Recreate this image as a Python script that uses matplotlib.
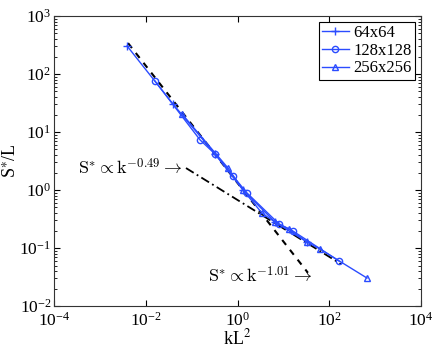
import numpy as np
import matplotlib
matplotlib.use('Agg')
import matplotlib.pyplot as plt

plt.rcParams['font.family'] = ['Liberation Serif', 'DejaVu Serif']
plt.rcParams['mathtext.fontset'] = 'stix'

# ---------------- data ----------------
k_64 = [0.0039, 0.039, 0.322, 1.31, 6.53, 32.5]
s_64 = [304, 30.4, 4.17, 1.0, 0.28, 0.127]

k_128 = [0.0158, 0.152, 0.322, 0.795, 1.60, 7.98, 16.1, 162]
s_128 = [75.7, 7.3, 4.17, 1.74, 0.89, 0.26, 0.196, 0.0597]

k_256 = [0.0615, 0.618, 1.31, 3.40, 6.53, 13.2, 32.5, 62.4, 659]
s_256 = [20.4, 2.39, 1.0, 0.40, 0.28, 0.213, 0.127, 0.096, 0.0304]

# power law fits  S* = C k^p
fit_steep_C, fit_steep_p = 1.32, -1.01
fit_steep_k = [0.0041, 34.0]
fit_flat_C, fit_flat_p = 0.672, -0.49
fit_flat_k = [0.075, 180.0]

labels = ['64x64', '128x128', '256x256']
blue = '#2b4cff'

fig = plt.figure(figsize=(4.36, 3.47), dpi=100)
ax = fig.add_axes([0.124, 0.118, 0.842, 0.836])

kk = np.logspace(np.log10(fit_steep_k[0]), np.log10(fit_steep_k[1]), 50)
ax.plot(kk, fit_steep_C * kk ** fit_steep_p, color='k', ls=(0, (3, 3)), lw=1.5)
kk = np.logspace(np.log10(fit_flat_k[0]), np.log10(fit_flat_k[1]), 50)
ax.plot(kk, fit_flat_C * kk ** fit_flat_p, color='k', ls=(0, (5, 2, 1, 2)), lw=1.3)

ax.plot(k_64, s_64, '-+', color=blue, lw=1.0, ms=6, mew=1.0, label=labels[0])
ax.plot(k_128, s_128, '-o', color=blue, lw=1.0, ms=4.5, mfc='none', mew=1.0, label=labels[1])
ax.plot(k_256, s_256, '-^', color=blue, lw=1.0, ms=5, mfc='none', mew=1.0, label=labels[2])

ax.text(3.3e-4, 2.39, r'$\mathrm{S}^{*}\propto \mathrm{k}^{-0.49}\rightarrow$',
        fontsize=13, va='center', ha='left', math_fontfamily='cm')
ax.text(0.226, 0.033, r'$\mathrm{S}^{*}\propto \mathrm{k}^{-1.01}\rightarrow$',
        fontsize=13, va='center', ha='left', math_fontfamily='cm')

ax.set_xscale('log')
ax.set_yscale('log')
ax.set_xlim(1e-4, 1e4)
ax.set_ylim(1e-2, 1e3)
ax.set_xticks([1e-4, 1e-2, 1e0, 1e2, 1e4])
ax.xaxis.set_minor_locator(matplotlib.ticker.NullLocator())
ax.tick_params(which='both', direction='in', top=True, right=True, labelsize=12.5)
ax.tick_params(which='major', length=4, pad=2)
ax.tick_params(axis='x', which='major', pad=4)
ax.tick_params(which='minor', length=2)
for sp in ax.spines.values():
    sp.set_color('#333333')
    sp.set_linewidth(0.8)

ax.set_xlabel(r'kL$^{2}$', fontsize=13, labelpad=-1)
ax.set_ylabel(r'S$^{\ast}$/L', fontsize=13, labelpad=0)

leg = ax.legend(loc='upper right', fontsize=12, handlelength=1.6, handletextpad=0.3,
                borderpad=0.2, labelspacing=0.1, fancybox=False, framealpha=1,
                borderaxespad=0.35)
leg.get_frame().set_edgecolor('k')
leg.get_frame().set_linewidth(0.8)

fig.savefig('out.png', dpi=100)
